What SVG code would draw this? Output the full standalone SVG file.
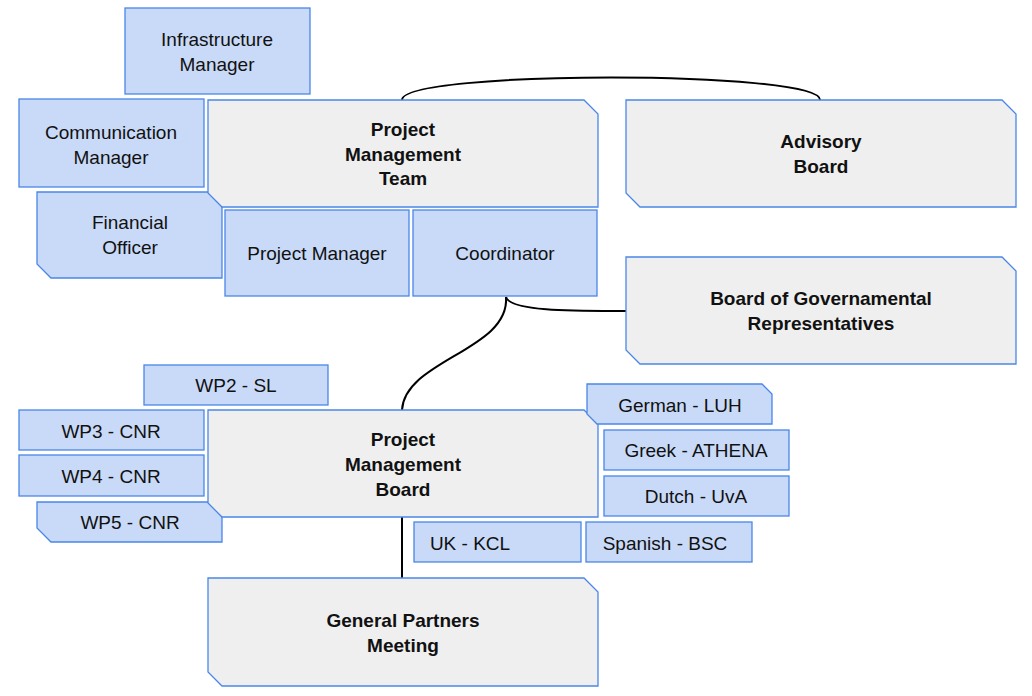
<svg xmlns="http://www.w3.org/2000/svg" width="1032" height="696" viewBox="0 0 1032 696">
<style>
.g{fill:#efefef;stroke:#4a86e8;stroke-width:1.3}
.b{fill:#c9daf8;stroke:#4a86e8;stroke-width:1.3}
text{font-family:"Liberation Sans",Arial,sans-serif;font-size:19px;fill:#111;text-anchor:middle}
.t{font-weight:bold}
.c{fill:none;stroke:#000;stroke-width:2}
</style>
<rect width="1032" height="696" fill="#fff"/>
<g id="connectors">
<path class="c" d="M402,100 C402,70 820,70 820,100"/>
<path class="c" d="M506,297 C510,350 405,360 402,410"/>
<path class="c" d="M506,297 C510,312 580,311 626,311"/>
<path class="c" d="M402,517 L402,578"/>
</g>
<g id="infra"><rect class="b" x="125" y="8" width="185" height="86"/><text x="217" y="46">Infrastructure</text><text x="217" y="71">Manager</text></g>
<g id="comm"><rect class="b" x="19" y="99" width="185" height="88"/><text x="111" y="139">Communication</text><text x="111" y="164">Manager</text></g>
<g id="fin"><path class="b" d="M37,192 H208 L222,206 V278 H51 L37,264 Z"/><text x="130" y="229">Financial</text><text x="130" y="254">Officer</text></g>
<g id="pmt"><path class="g" d="M208,100 H584 L598,114 V207 H222 L208,193 Z"/><text class="t" x="403" y="136">Project</text><text class="t" x="403" y="161">Management</text><text class="t" x="403" y="185">Team</text></g>
<g id="pm"><rect class="b" x="225" y="210" width="184" height="86"/><text x="317" y="260">Project Manager</text></g>
<g id="coord"><rect class="b" x="413" y="210" width="184" height="86"/><text x="505" y="260">Coordinator</text></g>
<g id="adv"><path class="g" d="M626,100 H1002 L1016,114 V207 H640 L626,193 Z"/><text class="t" x="821" y="148">Advisory</text><text class="t" x="821" y="173">Board</text></g>
<g id="bgr"><path class="g" d="M626,257 H1002 L1016,271 V364 H640 L626,350 Z"/><text class="t" x="821" y="305">Board of Governamental</text><text class="t" x="821" y="330">Representatives</text></g>
<g id="wp2"><rect class="b" x="144" y="365" width="184" height="40"/><text x="236" y="392">WP2 - SL</text></g>
<g id="wp3"><rect class="b" x="19" y="410" width="185" height="40"/><text x="111" y="438">WP3 - CNR</text></g>
<g id="wp4"><rect class="b" x="19" y="455" width="185" height="41"/><text x="111" y="483">WP4 - CNR</text></g>
<g id="wp5"><path class="b" d="M37,502 H208 L222,516 V542 H51 L37,528 Z"/><text x="130" y="529">WP5 - CNR</text></g>
<g id="pmb"><path class="g" d="M208,410 H584 L598,424 V517 H222 L208,503 Z"/><text class="t" x="403" y="446">Project</text><text class="t" x="403" y="471">Management</text><text class="t" x="403" y="496">Board</text></g>
<g id="german"><path class="b" d="M587,384 H762 L772,394 V424 H597 L587,414 Z"/><text x="680" y="412">German - LUH</text></g>
<g id="greek"><rect class="b" x="604" y="430" width="185" height="40"/><text x="696" y="457">Greek - ATHENA</text></g>
<g id="dutch"><rect class="b" x="604" y="476" width="185" height="40"/><text x="696" y="503">Dutch - UvA</text></g>
<g id="uk"><rect class="b" x="414" y="522" width="167" height="40"/><text x="470" y="550">UK - KCL</text></g>
<g id="spanish"><rect class="b" x="586" y="522" width="166" height="40"/><text x="665" y="550">Spanish - BSC</text></g>
<g id="gpm"><path class="g" d="M208,578 H584 L598,592 V686 H222 L208,672 Z"/><text class="t" x="403" y="627">General Partners</text><text class="t" x="403" y="652">Meeting</text></g>
</svg>
